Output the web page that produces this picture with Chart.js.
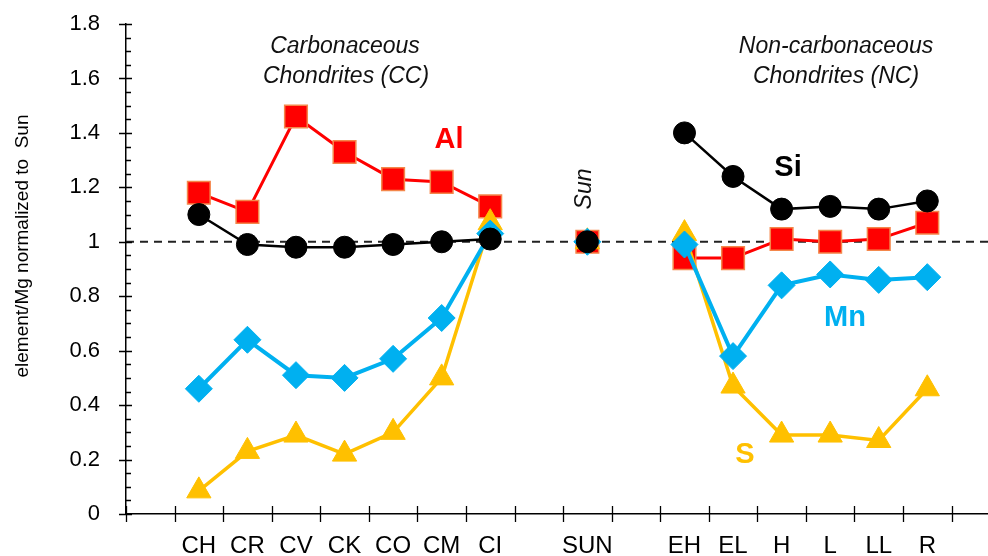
<!DOCTYPE html>
<html>
<head>
<meta charset="utf-8">
<script src="https://cdn.jsdelivr.net/npm/chart.js@4.4.1/dist/chart.umd.min.js"></script>
<style>
  html, body { margin: 0; padding: 0; background: #fff; overflow: hidden; }
</style>
</head>
<body>
<canvas id="myChart" width="988" height="556"></canvas>
<script>
// one slot per tick interval, blanks leave gaps between the groups
var categories = ['', 'CH', 'CR', 'CV', 'CK', 'CO', 'CM', 'CI', '', 'SUN', '', 'EH', 'EL', 'H', 'L', 'LL', 'R', ''];

var si = [null, 1.10, 0.99, 0.98, 0.98, 0.99, 1.00, 1.01, null, 1.00, null, 1.40, 1.24, 1.12, 1.13, 1.12, 1.15];
var mn = [null, 0.46, 0.64, 0.51, 0.50, 0.57, 0.72, 1.03, null, 1.00, null, 0.99, 0.58, 0.84, 0.88, 0.86, 0.87];
var s  = [null, 0.085, 0.23, 0.29, 0.22, 0.30, 0.50, 1.07, null, 1.00, null, 1.03, 0.47, 0.29, 0.29, 0.27, 0.46];
var al = [null, 1.18, 1.11, 1.46, 1.33, 1.23, 1.22, 1.13, null, 1.00, null, 0.94, 0.94, 1.01, 1.00, 1.01, 1.07];

var yMin = 0, yMax = 1.8, yStep = 0.2, yMinorStep = 0.05;
var refLine = 1;

var FONT = '"Liberation Sans", Arial, sans-serif';

function pts(vals) {
  return vals.map(function (v, i) { return { x: i + 0.5, y: v }; });
}

var extras = {
  id: 'extras',
  beforeDatasetsDraw: function (chart) {
    var ctx = chart.ctx, a = chart.chartArea;
    var py = chart.scales.y.getPixelForValue(refLine);
    ctx.save();
    ctx.strokeStyle = '#222';
    ctx.lineWidth = 2;
    ctx.setLineDash([8, 6]);
    ctx.beginPath();
    ctx.moveTo(a.left, py);
    ctx.lineTo(a.right, py);
    ctx.stroke();
    ctx.restore();
  },
  afterDraw: function (chart) {
    var ctx = chart.ctx, a = chart.chartArea, x = chart.scales.x, y = chart.scales.y;
    ctx.save();
    ctx.strokeStyle = '#000';
    ctx.lineWidth = 1.3;
    ctx.beginPath();
    // y axis: major ticks cross the axis, minor ticks inside
    var n = Math.round((yMax - yMin) / yMinorStep);
    for (var k = 0; k <= n; k++) {
      var py = Math.round(y.getPixelForValue(yMin + k * yMinorStep)) + 0.5;
      if (k % 4 === 0) {
        ctx.moveTo(a.left - 7, py);
        ctx.lineTo(a.left + 6, py);
      } else {
        ctx.moveTo(a.left, py);
        ctx.lineTo(a.left + 5, py);
      }
    }
    // x tick marks cross the axis
    for (var i = 0; i < categories.length; i++) {
      var px = Math.round(x.getPixelForValue(i)) + 0.5;
      ctx.moveTo(px, a.bottom - 8);
      ctx.lineTo(px, a.bottom + 8);
    }
    ctx.stroke();

    ctx.textAlign = 'center';
    ctx.textBaseline = 'middle';
    ctx.fillStyle = '#111';
    ctx.font = 'italic 23px ' + FONT;
    ctx.fillText('Carbonaceous', 345, 47);
    ctx.fillText('Chondrites (CC)', 346, 77);
    ctx.fillText('Non-carbonaceous', 836, 47);
    ctx.fillText('Chondrites (NC)', 836, 77);

    ctx.save();
    ctx.translate(585, 189);
    ctx.rotate(-Math.PI / 2);
    ctx.fillText('Sun', 0, 0);
    ctx.restore();

    ctx.save();
    ctx.translate(23, 246);
    ctx.rotate(-Math.PI / 2);
    ctx.fillStyle = '#000';
    ctx.font = '19px ' + FONT;
    ctx.fillText('element/Mg normalized to  Sun', 0, 0);
    ctx.restore();

    ctx.font = 'bold 29px ' + FONT;
    ctx.fillStyle = '#FF0000';
    ctx.fillText('Al', 449, 140);
    ctx.fillStyle = '#000000';
    ctx.fillText('Si', 788, 168);
    ctx.fillStyle = '#00B0F0';
    ctx.fillText('Mn', 845, 318);
    ctx.fillStyle = '#FFC000';
    ctx.fillText('S', 745, 455);
    ctx.restore();
  }
};

var ctx = document.getElementById('myChart').getContext('2d');
var myChart = new Chart(ctx, {
  type: 'line',
  data: {
    datasets: [
      {
        label: 'Si',
        data: pts(si),
        borderColor: '#000000',
        borderWidth: 2.5,
        pointStyle: 'circle',
        pointRadius: 11,
        pointBackgroundColor: '#000000',
        pointBorderColor: '#000000',
        pointBorderWidth: 1
      },
      {
        label: 'Mn',
        data: pts(mn),
        borderColor: '#00B0F0',
        borderWidth: 4,
        pointStyle: 'rectRot',
        pointRadius: 13.5,
        pointBackgroundColor: '#00B0F0',
        pointBorderColor: '#00B0F0',
        pointBorderWidth: 1
      },
      {
        label: 'S',
        data: pts(s),
        borderColor: '#FFC000',
        borderWidth: 3.5,
        pointStyle: 'triangle',
        pointRadius: 14,
        pointBackgroundColor: '#FFC000',
        pointBorderColor: '#FFC000',
        pointBorderWidth: 1
      },
      {
        label: 'Al',
        data: pts(al),
        borderColor: '#FF0000',
        borderWidth: 3,
        pointStyle: 'rect',
        pointRadius: 16,
        pointBackgroundColor: '#FF0000',
        pointBorderColor: '#F4874B',
        pointBorderWidth: 1.5
      }
    ]
  },
  options: {
    responsive: false,
    animation: false,
    events: [],
    spanGaps: false,
    elements: { line: { tension: 0, fill: false } },
    layout: { autoPadding: false, padding: { top: 24, left: 0, right: 0, bottom: 0 } },
    plugins: {
      legend: { display: false },
      tooltip: { enabled: false }
    },
    scales: {
      x: {
        type: 'linear',
        min: 0,
        max: 17.75,
        afterBuildTicks: function (scale) {
          scale.ticks = categories.map(function (c, i) { return { value: i + 0.5 }; });
        },
        afterFit: function (scale) { scale.height = 42; },
        ticks: {
          autoSkip: false,
          maxRotation: 0,
          padding: 0,
          color: '#000',
          font: { family: FONT, size: 24 },
          callback: function (v, i) { return categories[i]; }
        },
        grid: { offset: true, drawOnChartArea: false, tickColor: 'rgba(0,0,0,0)', tickLength: 18 },
        border: { color: '#000', width: 1.5 }
      },
      y: {
        min: yMin,
        max: yMax,
        afterFit: function (scale) { scale.width = 126; },
        ticks: {
          stepSize: yStep,
          padding: 4,
          color: '#000',
          font: { family: FONT, size: 22 },
          callback: function (v) { return String(Math.round(v * 10) / 10); }
        },
        grid: { drawOnChartArea: false, tickColor: 'rgba(0,0,0,0)', tickLength: 22 },
        border: { color: '#000', width: 1.5 }
      }
    }
  },
  plugins: [extras]
});
</script>
</body>
</html>
